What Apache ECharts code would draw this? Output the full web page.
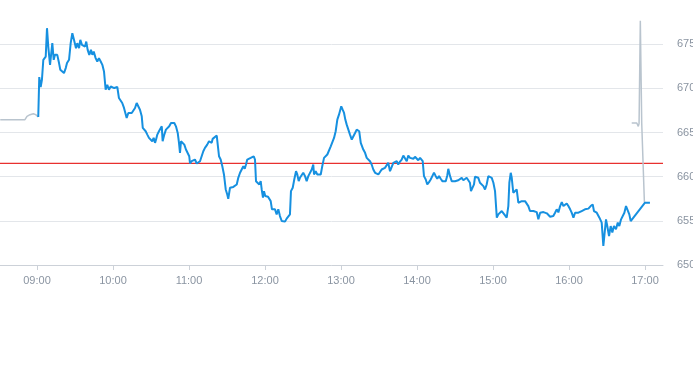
<!DOCTYPE html>
<html>
<head>
<meta charset="utf-8">
<script src="https://cdn.jsdelivr.net/npm/echarts@6/dist/echarts.min.js"></script>
<style>
html,body{margin:0;padding:0;background:#fff;}
#chart{width:693px;height:365px;}
</style>
</head>
<body>
<div id="chart"></div>
<script>
// x values are minutes after 09:00
const hourTicks = [0, 60, 120, 180, 240, 300, 360, 420, 480];
const hourLabels = ['09:00','10:00','11:00','12:00','13:00','14:00','15:00','16:00','17:00'];
const refPrice = 661.5;
const xRange = [-29.2, 494.2];

// pre-market (grey)
const prePoints = [[-29,666.45],[-9.5,666.45],[-7.9,666.83],[-6.9,666.65],[-5.5,667.02],[-2.9,667.13],[-1,667.02],[0.2,666.83],[1.0,666.76]];

// regular session (blue)
const sessionPoints = [
[1.0,666.76],[1.8,671.28],[2.9,670.15],[3.9,670.97],[5.0,673.23],[6.1,673.04],[6.9,673.60],[7.9,676.81],[8.9,674.73],[10.3,672.66],
[11.1,672.47],[12.1,675.11],[13.2,673.23],[14.2,673.79],[16.0,673.79],[17.4,672.86],[18.4,672.10],[19.7,672.29],[21.3,671.73],[22.7,672.29],
[23.7,672.86],[25.3,673.23],[26.6,675.11],[27.9,676.24],[29.2,675.49],[30.8,674.55],[31.8,675.11],[33.2,674.55],[34.2,675.49],[35.5,674.92],
[36.6,675.11],[37.9,674.73],[38.9,675.29],[40.0,674.36],[41.3,673.79],[42.6,674.36],[43.7,673.79],[44.8,674.16],[46.3,673.42],[47.6,673.04],
[48.9,673.42],[50.3,673.04],[51.6,672.66],[52.9,671.91],[54.2,669.84],[55.5,670.41],[56.8,669.84],[58.2,670.21],[59.4,670.03],[61.0,670.03],
[62.1,670.21],[63.4,670.15],[64.7,668.90],[66.1,668.71],[67.3,668.34],[68.7,667.78],[69.5,667.58],[70.8,666.65],[72.1,667.21],[73.4,667.39],
[74.8,667.21],[76.0,667.39],[77.4,667.78],[78.7,668.34],[80.0,668.41],[81.3,667.58],[82.7,666.83],[83.5,665.52],[84.5,665.70],[85.8,665.14],
[87.1,664.76],[88.4,664.39],[89.8,664.57],[91.0,664.01],[92.1,664.39],[93.2,663.83],[94.0,664.20],[95.0,664.76],[96.3,665.14],[97.7,665.33],
[98.5,665.70],[99.2,664.01],[100.5,664.76],[101.8,665.33],[103.2,665.41],[104.4,665.70],[105.8,666.08],[107.1,666.26],[108.4,666.08],[109.7,665.70],
[111.1,664.95],[112.1,663.83],[112.9,662.70],[113.7,664.01],[115.0,664.20],[116.3,663.63],[117.6,663.07],[119.0,662.88],[120.2,662.31],[120.8,661.49],
[122.1,661.75],[123.4,661.57],[124.7,661.94],[126.1,661.49],[127.3,661.38],[128.7,661.75],[130.0,661.94],[131.3,662.88],[132.6,663.26],[134.4,663.63],
[135.8,664.01],[137.1,664.20],[137.9,663.83],[138.7,664.28],[140.0,664.50],[141.9,664.65],[143.1,664.54],[143.7,662.31],[145.0,661.94],[146.3,661.18],
[147.6,660.25],[149.0,658.55],[150.2,657.99],[151.0,657.50],[152.4,658.75],[153.7,658.93],[155.0,658.84],[156.3,658.93],[157.7,659.12],[158.9,659.87],
[160.3,660.44],[161.6,660.81],[162.9,661.18],[164.0,660.89],[165.0,661.38],[166.0,661.94],[167.4,662.02],[168.7,662.13],[170.0,662.13],[171.1,662.31],
[172.1,661.94],[172.9,659.49],[174.2,659.49],[175.5,659.12],[176.6,659.49],[177.4,658.55],[178.4,657.62],[179.2,658.36],[180.2,657.80],[181.3,657.99],
[182.4,657.73],[183.4,657.62],[184.5,657.23],[185.5,656.30],[186.6,656.11],[187.9,656.30],[189.2,655.73],[190.5,656.30],[191.8,655.54],[193.2,654.98],
[194.5,655.17],[195.8,654.91],[197.1,655.25],[198.4,655.36],[199.7,655.73],[200.5,658.36],[201.9,658.75],[203.1,659.68],[204.5,660.62],[205.5,660.25],
[206.6,659.49],[207.6,659.87],[209.0,660.06],[210.2,660.44],[211.6,660.06],[212.9,659.49],[214.2,660.06],[215.5,660.25],[216.9,660.81],[218.1,661.38],
[218.7,660.25],[220.0,660.62],[221.3,660.25],[222.6,660.44],[224.0,660.25],[225.2,661.18],[226.6,662.13],[227.9,662.31],[229.2,662.51],[230.5,662.31],
[231.9,663.44],[233.1,663.63],[234.5,664.39],[235.8,665.14],[237.1,666.46],[238.4,667.02],[239.2,666.83],[240.2,667.96],[241.3,667.58],[242.4,667.21],
[243.4,666.46],[244.5,665.89],[245.8,665.33],[247.1,664.76],[248.5,664.20],[249.7,664.01],[251.1,664.95],[252.4,665.33],[253.7,665.33],[254.4,665.14],
[255.6,663.83],[256.8,664.01],[257.6,663.07],[259.0,662.70],[260.3,662.13],[261.6,661.94],[262.9,661.75],[264.2,661.38],[265.5,660.81],[266.9,660.44],
[268.2,660.55],[269.5,660.25],[270.8,660.44],[272.1,660.81],[273.4,660.62],[274.7,661.00],[276.1,661.18],[277.3,661.57],[278.7,660.62],[280.0,660.44],
[281.3,661.57],[282.6,661.75],[284.0,661.75],[285.2,661.38],[286.6,661.71],[287.9,661.94],[289.2,662.39],[290.5,662.17],[291.9,661.75],[293.1,662.39],
[294.5,662.13],[295.8,662.31],[297.1,662.02],[298.4,662.25],[299.8,662.13],[301.0,661.86],[302.4,662.13],[303.4,662.02],[304.5,661.75],[305.5,660.06],
[306.9,659.68],[308.1,659.12],[309.5,659.38],[310.8,659.68],[312.1,660.06],[313.4,660.44],[314.8,660.06],[316.0,659.76],[317.4,660.06],[318.7,659.76],
[320.0,659.49],[321.3,659.68],[322.7,659.49],[323.9,660.13],[324.7,660.89],[326.1,660.06],[327.4,659.49],[328.7,659.68],[330.0,659.49],[331.3,659.68],
[332.6,659.60],[334.0,659.76],[335.3,659.87],[336.6,659.60],[337.9,659.76],[339.2,659.87],[340.5,659.99],[341.8,659.31],[342.6,658.36],[344.0,658.36],
[345.0,659.12],[345.8,659.99],[347.1,660.13],[348.4,659.87],[349.7,659.31],[351.1,659.23],[352.4,658.93],[353.7,658.55],[355.0,659.12],[356.3,660.06],
[357.6,660.13],[359.0,659.87],[360.3,659.31],[361.6,658.36],[363.0,655.36],[364.2,655.73],[365.5,655.92],[366.9,656.11],[368.2,655.92],[369.5,655.62],
[370.8,655.36],[372.1,656.67],[372.9,659.31],[374.0,660.44],[374.8,659.87],[376.0,658.18],[377.4,658.36],[378.7,658.55],[380.0,657.05],[381.3,657.14],
[382.7,657.23],[384.0,657.23],[385.3,657.23],[386.6,657.43],[387.9,656.67],[389.2,656.11],[390.6,656.02],[391.9,656.11],[393.2,656.02],[394.5,655.99],
[395.8,655.17],[397.2,655.92],[398.5,655.85],[399.8,655.99],[401.1,655.79],[402.5,655.85],[403.8,655.68],[405.1,655.47],[406.4,655.39],[407.6,655.54],
[409.0,655.92],[410.3,656.30],[411.6,655.96],[413.0,656.67],[414.3,657.12],[415.6,656.67],[416.9,656.81],[418.2,656.97],[419.5,656.67],[420.9,656.30],
[422.1,655.92],[423.5,655.36],[424.8,655.92],[426.1,656.11],[427.4,655.92],[428.7,655.99],[430.0,656.11],[431.3,656.11],[432.6,656.30],[435.3,656.38],
[437.1,656.67],[438.7,656.86],[439.7,656.11],[441.9,655.92],[444.0,655.36],[445.8,654.80],[447.1,652.16],[448.2,652.35],[449.2,655.17],[450.2,654.41],
[451.6,653.28],[452.9,654.41],[454.2,653.67],[455.5,654.41],[457.1,654.04],[458.5,654.80],[459.7,654.41],[461.1,655.17],[462.4,654.98],[463.7,655.92],
[465.0,656.67],[466.4,656.49],[467.6,655.73],[468.7,654.98],[480.0,657.05],[483.9,657.05]
];

// after-hours (grey)
const postPoints = [[469.5,666.08],[473.5,666.08],[474.7,665.70],[475.3,666.0],[476.3,677.66],[477.4,666.08],[478.7,665.89],[479.5,657.16],[480.0,657.05]];

const chart = echarts.init(document.getElementById('chart'), null, {renderer: 'canvas'});
const labelColor = '#8a94a1';
chart.setOption({
  animation: false,
  backgroundColor: '#ffffff',
  grid: {left: 0, right: 30, top: 0, bottom: 100, containLabel: false, outerBoundsMode: 'none'},
  xAxis: {
    type: 'value',
    min: xRange[0],
    max: xRange[1],
    axisLine: {show: true, lineStyle: {color: '#ccd1d8', width: 1}},
    axisTick: {show: true, length: 5, lineStyle: {color: '#ccd1d8'}, customValues: hourTicks},
    axisLabel: {
      color: labelColor, fontSize: 11, margin: 10, fontFamily: 'Liberation Sans, Arial, sans-serif',
      customValues: hourTicks,
      formatter: function (v) { const i = hourTicks.indexOf(Math.round(v)); return i >= 0 ? hourLabels[i] : ''; }
    },
    splitLine: {show: false}
  },
  yAxis: {
    type: 'value',
    position: 'right',
    min: 650,
    max: 680,
    interval: 5,
    axisLine: {show: false},
    axisTick: {show: false},
    axisLabel: {color: labelColor, fontSize: 11, margin: 14, showMaxLabel: false, fontFamily: 'Liberation Sans, Arial, sans-serif'},
    splitLine: {show: true, showMaxLine: false, lineStyle: {color: '#e3e6ea', width: 1}}
  },
  series: [
    {
      type: 'line', data: [[xRange[0], refPrice], [xRange[1], refPrice]], showSymbol: false, symbol: 'none',
      itemStyle: {color: '#e8312f'},
      lineStyle: {color: '#e8312f', width: 1.2, opacity: 1}, z: 1, silent: true
    },
    {
      type: 'line', data: prePoints, showSymbol: false, symbol: 'none',
      lineStyle: {color: '#b9c4ce', width: 1.5}, z: 2
    },
    {
      type: 'line', data: postPoints, showSymbol: false, symbol: 'none',
      lineStyle: {color: '#b9c4ce', width: 1.5}, z: 2
    },
    {
      type: 'line', data: sessionPoints, showSymbol: false, symbol: 'none',
      lineStyle: {color: '#1690e0', width: 2}, z: 3
    }
  ]
});
</script>
</body>
</html>
